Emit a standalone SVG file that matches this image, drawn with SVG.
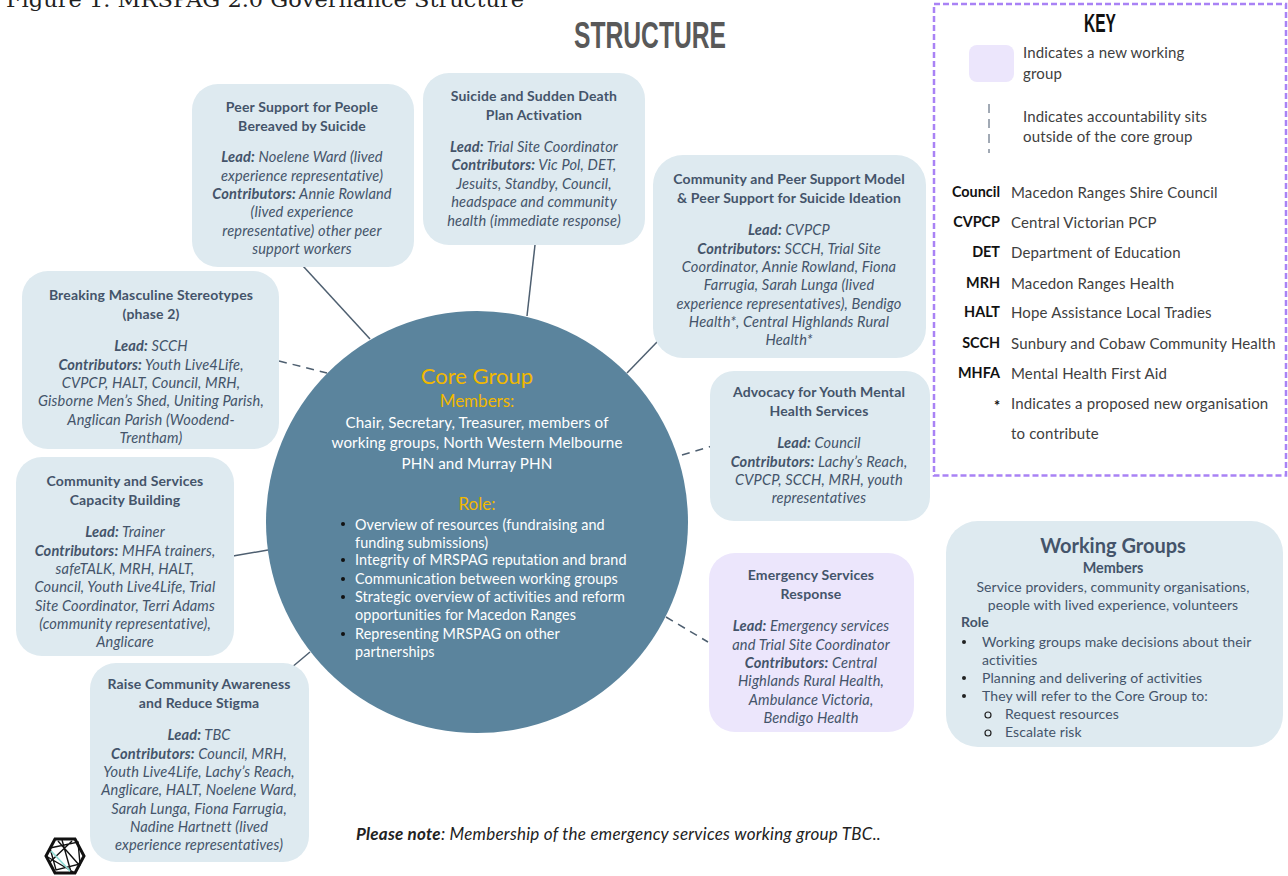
<svg xmlns="http://www.w3.org/2000/svg" width="1288" height="876" viewBox="0 0 1288 876">
<style>
text{font-family:Lato,"Noto Sans",sans-serif}
.b{fill:#deeaf0}.p{fill:#ece6fc}
.c{stroke:#4e5f70;stroke-width:1.5;fill:none}.d{stroke-dasharray:8 6}
.t{font-size:14px;letter-spacing:.15px;font-weight:700;fill:#44546a;text-anchor:middle}
.i{font-size:14.6px;letter-spacing:.15px;font-style:italic;fill:#44546a;text-anchor:middle}
.i tspan{font-weight:700}
.w{font-size:15.2px;letter-spacing:.1px;fill:#fff}.m{text-anchor:middle}
.r{font-size:14.4px;letter-spacing:.1px;fill:#fff}
.y{fill:#f2b800;text-anchor:middle}
.k{font-size:15px;letter-spacing:.15px;fill:#404040}
.a{font-size:14.4px;font-weight:700;fill:#111;text-anchor:end}
.g{font-size:14px;letter-spacing:.1px;fill:#44546a}
</style>
<text x="6" y="7" style="font-family:'DejaVu Serif',serif;font-size:20px" fill="#222" textLength="518" lengthAdjust="spacingAndGlyphs">Figure 1. MRSPAG 2.0 Governance Structure</text>
<text x="650" y="48" style="font-family:'Liberation Sans',sans-serif;font-size:37px;font-weight:700" fill="#595959" text-anchor="middle" textLength="152" lengthAdjust="spacingAndGlyphs">STRUCTURE</text>
<g id="connectors">
<line class="c" x1="303" y1="266" x2="370" y2="339"/>
<line class="c" x1="535" y1="245" x2="527" y2="316"/>
<line class="c" x1="658" y1="341" x2="627" y2="373"/>
<line class="c d" x1="279" y1="361" x2="327" y2="373"/>
<line class="c d" x1="682" y1="455" x2="712" y2="446"/>
<line class="c" x1="233" y1="556" x2="268" y2="550"/>
<line class="c" x1="291" y1="668" x2="310" y2="652"/>
<line class="c d" x1="666" y1="617" x2="708" y2="642"/>
</g>
<g id="core"><circle cx="477" cy="522" r="211" fill="#5b849d"/>
<text class="y" x="477" y="384" font-size="22">Core Group</text>
<text class="y" x="477" y="407" font-size="17">Members:</text>
<text class="w m" x="477" y="428">Chair, Secretary, Treasurer, members of</text>
<text class="w m" x="477" y="448">working groups, North Western Melbourne</text>
<text class="w m" x="477" y="469">PHN and Murray PHN</text>
<text class="y" x="477" y="510" font-size="17">Role:</text>
<text class="r" x="355" y="530">Overview of resources (fundraising and</text>
<text class="r" x="355" y="548">funding submissions)</text>
<text class="r" x="355" y="565">Integrity of MRSPAG reputation and brand</text>
<text class="r" x="355" y="584">Communication between working groups</text>
<text class="r" x="355" y="602">Strategic overview of activities and reform</text>
<text class="r" x="355" y="620">opportunities for Macedon Ranges</text>
<text class="r" x="355" y="639">Representing MRSPAG on other</text>
<text class="r" x="355" y="657">partnerships</text>
<g fill="#111"><circle cx="343" cy="524" r="2"/><circle cx="343" cy="560" r="2"/><circle cx="343" cy="579" r="2"/><circle cx="343" cy="597" r="2"/><circle cx="343" cy="634" r="2"/></g>
</g>
<g id="peer-bereaved"><rect class="b" x="192" y="84" width="222" height="183" rx="26"/>
<text class="t" x="302" y="112">Peer Support for People</text><text class="t" x="302" y="131">Bereaved by Suicide</text>
<text class="i" x="302" y="162"><tspan>Lead:</tspan> Noelene Ward (lived</text>
<text class="i" x="302" y="181">experience representative)</text>
<text class="i" x="302" y="199"><tspan>Contributors:</tspan> Annie Rowland</text>
<text class="i" x="302" y="217">(lived experience</text>
<text class="i" x="302" y="236">representative) other peer</text>
<text class="i" x="302" y="254">support workers</text></g>
<g id="suicide-plan"><rect class="b" x="423" y="73" width="222" height="172" rx="26"/>
<text class="t" x="534" y="101">Suicide and Sudden Death</text><text class="t" x="534" y="120">Plan Activation</text>
<text class="i" x="534" y="152"><tspan>Lead:</tspan> Trial Site Coordinator</text>
<text class="i" x="534" y="170"><tspan>Contributors:</tspan> Vic Pol, DET,</text>
<text class="i" x="534" y="189">Jesuits, Standby, Council,</text>
<text class="i" x="534" y="207">headspace and community</text>
<text class="i" x="534" y="226">health (immediate response)</text></g>
<g id="community-peer"><rect class="b" x="653" y="155" width="273" height="203" rx="30"/>
<text class="t" x="789" y="184">Community and Peer Support Model</text><text class="t" x="789" y="203">&amp; Peer Support for Suicide Ideation</text>
<text class="i" x="789" y="235"><tspan>Lead:</tspan> CVPCP</text>
<text class="i" x="789" y="254"><tspan>Contributors:</tspan> SCCH, Trial Site</text>
<text class="i" x="789" y="272">Coordinator, Annie Rowland, Fiona</text>
<text class="i" x="789" y="290">Farrugia, Sarah Lunga (lived</text>
<text class="i" x="789" y="309">experience representatives), Bendigo</text>
<text class="i" x="789" y="327">Health*, Central Highlands Rural</text>
<text class="i" x="789" y="345">Health*</text></g>
<g id="masculine"><rect class="b" x="22" y="271" width="257" height="178" rx="26"/>
<text class="t" x="151" y="300">Breaking Masculine Stereotypes</text><text class="t" x="151" y="319">(phase 2)</text>
<text class="i" x="151" y="351"><tspan>Lead:</tspan> SCCH</text>
<text class="i" x="151" y="370"><tspan>Contributors:</tspan> Youth Live4Life,</text>
<text class="i" x="151" y="388">CVPCP, HALT, Council, MRH,</text>
<text class="i" x="151" y="406">Gisborne Men’s Shed, Uniting Parish,</text>
<text class="i" x="151" y="425">Anglican Parish (Woodend-</text>
<text class="i" x="151" y="443">Trentham)</text></g>
<g id="advocacy"><rect class="b" x="710" y="371" width="220" height="150" rx="24"/>
<text class="t" x="819" y="397">Advocacy for Youth Mental</text><text class="t" x="819" y="416">Health Services</text>
<text class="i" x="819" y="448"><tspan>Lead:</tspan> Council</text>
<text class="i" x="819" y="467"><tspan>Contributors:</tspan> Lachy’s Reach,</text>
<text class="i" x="819" y="485">CVPCP, SCCH, MRH, youth</text>
<text class="i" x="819" y="503">representatives</text></g>
<g id="capacity"><rect class="b" x="16" y="457" width="218" height="199" rx="26"/>
<text class="t" x="125" y="486">Community and Services</text><text class="t" x="125" y="505">Capacity Building</text>
<text class="i" x="125" y="537"><tspan>Lead:</tspan> Trainer</text>
<text class="i" x="125" y="556"><tspan>Contributors:</tspan> MHFA trainers,</text>
<text class="i" x="125" y="574">safeTALK, MRH, HALT,</text>
<text class="i" x="125" y="592">Council, Youth Live4Life, Trial</text>
<text class="i" x="125" y="611">Site Coordinator, Terri Adams</text>
<text class="i" x="125" y="629">(community representative),</text>
<text class="i" x="125" y="647">Anglicare</text></g>
<g id="emergency"><rect class="p" x="709" y="553" width="205" height="179" rx="26"/>
<text class="t" x="811" y="580">Emergency Services</text><text class="t" x="811" y="599">Response</text>
<text class="i" x="811" y="631"><tspan>Lead:</tspan> Emergency services</text>
<text class="i" x="811" y="650">and Trial Site Coordinator</text>
<text class="i" x="811" y="668"><tspan>Contributors:</tspan> Central</text>
<text class="i" x="811" y="686">Highlands Rural Health,</text>
<text class="i" x="811" y="705">Ambulance Victoria,</text>
<text class="i" x="811" y="723">Bendigo Health</text></g>
<g id="awareness"><rect class="b" x="90" y="663" width="219" height="199" rx="26"/>
<text class="t" x="199" y="689">Raise Community Awareness</text><text class="t" x="199" y="708">and Reduce Stigma</text>
<text class="i" x="199" y="740"><tspan>Lead:</tspan> TBC</text>
<text class="i" x="199" y="759"><tspan>Contributors:</tspan> Council, MRH,</text>
<text class="i" x="199" y="777">Youth Live4Life, Lachy’s Reach,</text>
<text class="i" x="199" y="795">Anglicare, HALT, Noelene Ward,</text>
<text class="i" x="199" y="814">Sarah Lunga, Fiona Farrugia,</text>
<text class="i" x="199" y="832">Nadine Hartnett (lived</text>
<text class="i" x="199" y="850">experience representatives)</text></g>
<g id="logo" fill="none" stroke="#111"><path d="M55 839H75L84 856L75 873H55L46 856Z" stroke-width="3"/><path d="M50 848L78 842L80 864L56 870ZM58 841L80 866M72 841L50 862M46 856L75 873M62 840L71 872" stroke-width="1.4"/><line x1="51" y1="851" x2="70" y2="871" stroke="#8fdcd4" stroke-width="1.8"/></g>
<text x="356" y="840" font-size="17" letter-spacing=".25" fill="#222"><tspan font-weight="700" font-style="italic">Please note</tspan><tspan font-style="italic">: Membership of the emergency services working group TBC..</tspan></text>
<g id="key"><rect x="934" y="4" width="352" height="471.500" fill="none" stroke="#a982f5" stroke-width="2.500" stroke-dasharray="6 3"/>
<text x="1100" y="32" style="font-family:'Liberation Sans',sans-serif;font-size:25px;font-weight:700" fill="#111" text-anchor="middle" textLength="32" lengthAdjust="spacingAndGlyphs">KEY</text>
<rect class="p" x="969" y="45" width="45" height="37" rx="8"/>
<text class="k" x="1023" y="58">Indicates a new working</text><text class="k" x="1023" y="79">group</text>
<line x1="989" y1="104" x2="989" y2="153" stroke="#44546a" stroke-width="1" stroke-dasharray="9 6"/>
<text class="k" x="1023" y="122">Indicates accountability sits</text><text class="k" x="1023" y="142">outside of the core group</text>
<text class="a" x="1000" y="197">Council</text><text class="k" x="1011" y="198">Macedon Ranges Shire Council</text>
<text class="a" x="1000" y="227">CVPCP</text><text class="k" x="1011" y="228">Central Victorian PCP</text>
<text class="a" x="1000" y="257">DET</text><text class="k" x="1011" y="258">Department of Education</text>
<text class="a" x="1000" y="288">MRH</text><text class="k" x="1011" y="289">Macedon Ranges Health</text>
<text class="a" x="1000" y="317">HALT</text><text class="k" x="1011" y="318">Hope Assistance Local Tradies</text>
<text class="a" x="1000" y="348">SCCH</text><text class="k" x="1011" y="349">Sunbury and Cobaw Community Health</text>
<text class="a" x="1000" y="378">MHFA</text><text class="k" x="1011" y="379">Mental Health First Aid</text>
<text class="a" x="1000" y="411">*</text><text class="k" x="1011" y="409">Indicates a proposed new organisation</text>
<text class="k" x="1011" y="439">to contribute</text></g>
<g id="working-groups"><rect class="b" x="946" y="521" width="337" height="226" rx="32"/>
<text x="1113" y="553" font-size="20" font-weight="700" fill="#44546a" text-anchor="middle">Working Groups</text>
<text x="1113" y="573" font-size="14.400" font-weight="700" fill="#44546a" text-anchor="middle">Members</text>
<text class="g" x="1113" y="592" text-anchor="middle">Service providers, community organisations,</text>
<text class="g" x="1113" y="610" text-anchor="middle">people with lived experience, volunteers</text>
<text class="g" x="961" y="627" font-weight="700">Role</text>
<text class="g" x="982" y="647">Working groups make decisions about their</text>
<text class="g" x="982" y="665">activities</text>
<text class="g" x="982" y="683">Planning and delivering of activities</text>
<text class="g" x="982" y="701">They will refer to the Core Group to:</text>
<text class="g" x="1005" y="719">Request resources</text>
<text class="g" x="1005" y="737">Escalate risk</text>
<g fill="#222"><circle cx="964" cy="642" r="2"/><circle cx="964" cy="678" r="2"/><circle cx="964" cy="696" r="2"/></g>
<g fill="none" stroke="#222" stroke-width="1.2"><circle cx="988" cy="715" r="3"/><circle cx="988" cy="733" r="3"/></g>
</g>
</svg>
